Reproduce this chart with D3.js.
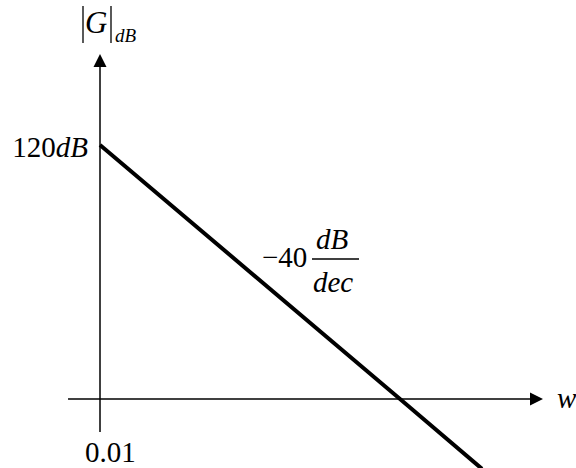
<!DOCTYPE html>
<html>
<head>
<meta charset="utf-8">
<script src="https://cdn.jsdelivr.net/npm/d3@7"></script>
<style>
  html, body { margin: 0; padding: 0; background: #fff; }
  svg { display: block; }
  text { font-family: "Liberation Serif", "Times New Roman", serif; fill: #000; }
  .it { font-style: italic; }
</style>
</head>
<body>
<svg id="chart" width="576" height="468"></svg>
<script>
// asymptote points (rad/s, dB)
var freqs = [0.01, 10, 66];
var magDb = [120, 0, -33];
var yTickLabel = "120";
var xTickLabel = "0.01";
var slopeLabel = "\u221240";

// how far the drawn axes run, in data units
var xAxisExtent = [0.00479, 269];
var yAxisExtent = [-15.6, 163];

var svg = d3.select("#chart");

var x = d3.scaleLog().domain([0.01, 10]).range([100, 400]);
var y = d3.scaleLinear().domain([0, 120]).range([399, 145]);

var x0 = x(freqs[0]), y0 = y(0);
var arrowLen = 13, arrowHalf = 6.5;

// x axis
svg.append("line")
  .attr("x1", x(xAxisExtent[0])).attr("y1", y0)
  .attr("x2", x(xAxisExtent[1]) - arrowLen + 1).attr("y2", y0)
  .attr("stroke", "#000").attr("stroke-width", 1.5);
var xt = x(xAxisExtent[1]);
svg.append("path")
  .attr("d", "M" + xt + "," + y0 + "L" + (xt - arrowLen) + "," + (y0 - arrowHalf) +
             "L" + (xt - arrowLen) + "," + (y0 + arrowHalf) + "Z")
  .attr("fill", "#000");

// y axis
svg.append("line")
  .attr("x1", x0).attr("y1", y(yAxisExtent[0]))
  .attr("x2", x0).attr("y2", y(yAxisExtent[1]) + arrowLen - 1)
  .attr("stroke", "#000").attr("stroke-width", 1.5);
var yt = y(yAxisExtent[1]);
svg.append("path")
  .attr("d", "M" + x0 + "," + yt + "L" + (x0 - arrowHalf) + "," + (yt + arrowLen) +
             "L" + (x0 + arrowHalf) + "," + (yt + arrowLen) + "Z")
  .attr("fill", "#000");

// asymptote
var pts = freqs.map(function(f, i){ return [f, magDb[i]]; });
svg.append("path")
  .datum(pts)
  .attr("d", d3.line().x(function(d){ return x(d[0]); }).y(function(d){ return y(d[1]); }))
  .attr("fill", "none")
  .attr("stroke", "#000")
  .attr("stroke-width", 4);

// tick labels
var yl = svg.append("text")
  .attr("x", x0 - 12).attr("y", y(120) + 12)
  .attr("text-anchor", "end")
  .style("font-size", "29px");
yl.append("tspan").text(yTickLabel);
yl.append("tspan").attr("class", "it").text("dB");

svg.append("text")
  .attr("x", x0 - 15).attr("y", 462)
  .style("font-size", "29px")
  .text(xTickLabel);

// axis titles
svg.append("text")
  .attr("class", "it")
  .attr("x", 557).attr("y", 408)
  .style("font-size", "29px")
  .text("w");

[83, 111].forEach(function(bx){
  svg.append("line")
    .attr("x1", bx).attr("y1", 6).attr("x2", bx).attr("y2", 43)
    .attr("stroke", "#000").attr("stroke-width", 1.3);
});
svg.append("text")
  .attr("class", "it")
  .attr("x", 85).attr("y", 33)
  .style("font-size", "31px")
  .text("G");
svg.append("text")
  .attr("class", "it")
  .attr("x", 115).attr("y", 42)
  .style("font-size", "19px")
  .text("dB");

// slope annotation
var sx = 262, sy = 267;
svg.append("text")
  .attr("x", sx).attr("y", sy)
  .style("font-size", "29px")
  .text(slopeLabel);
svg.append("line")
  .attr("x1", sx + 50).attr("y1", sy - 8)
  .attr("x2", sx + 97).attr("y2", sy - 8)
  .attr("stroke", "#000").attr("stroke-width", 1.3);
svg.append("text")
  .attr("class", "it")
  .attr("x", sx + 70).attr("y", sy - 18)
  .attr("text-anchor", "middle")
  .style("font-size", "29px")
  .text("dB");
svg.append("text")
  .attr("class", "it")
  .attr("x", sx + 71).attr("y", sy + 25)
  .attr("text-anchor", "middle")
  .style("font-size", "29px")
  .text("dec");
</script>
</body>
</html>
